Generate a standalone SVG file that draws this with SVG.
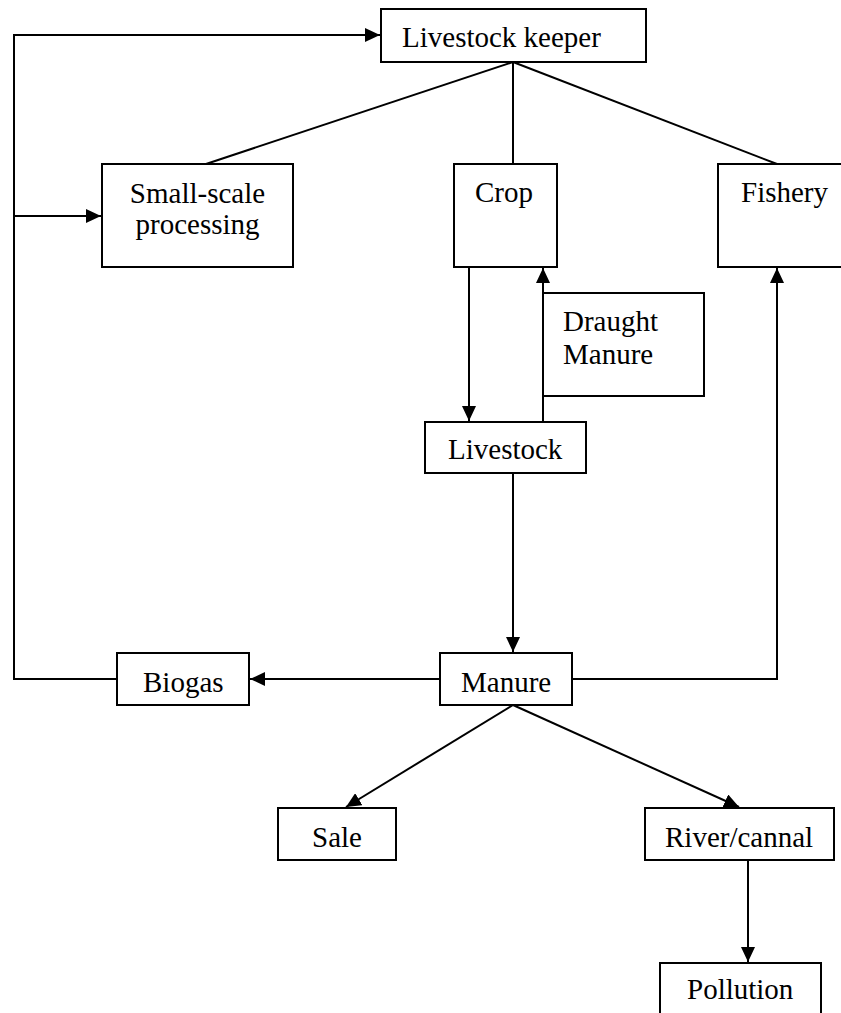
<svg xmlns="http://www.w3.org/2000/svg" width="841" height="1013" viewBox="0 0 841 1013">
<style>
.box{fill:#fff;stroke:#000;stroke-width:2}
.lbl{font-family:"Liberation Serif","Times New Roman",serif;font-size:29px;fill:#000}
.c{fill:none;stroke:#000;stroke-width:2}
</style>
<defs>
<marker id="ah" markerUnits="userSpaceOnUse" markerWidth="16" markerHeight="14" refX="15" refY="7" orient="auto">
<path d="M0,0 L15,7 L0,14 Z" fill="#000"/>
</marker>
</defs>
<rect width="841" height="1013" fill="#fff"/>
<g id="connectors">
<polyline class="c" points="117,679 14,679 14,35 380,35" marker-end="url(#ah)"/>
<line class="c" x1="14" y1="216" x2="101" y2="216" marker-end="url(#ah)"/>
<line class="c" x1="513" y1="62" x2="206" y2="164"/>
<line class="c" x1="513" y1="62" x2="513" y2="164"/>
<line class="c" x1="513" y1="62" x2="777" y2="164"/>
<line class="c" x1="469" y1="267" x2="469" y2="421" marker-end="url(#ah)"/>
<line class="c" x1="543" y1="422" x2="543" y2="268" marker-end="url(#ah)"/>
<line class="c" x1="513" y1="473" x2="513" y2="652" marker-end="url(#ah)"/>
<line class="c" x1="440" y1="679" x2="250" y2="679" marker-end="url(#ah)"/>
<polyline class="c" points="572,679 777,679 777,268" marker-end="url(#ah)"/>
<line class="c" x1="513" y1="705" x2="346" y2="807" marker-end="url(#ah)"/>
<line class="c" x1="513" y1="705" x2="739" y2="807" marker-end="url(#ah)"/>
<line class="c" x1="748" y1="860" x2="748" y2="962" marker-end="url(#ah)"/>
</g>
<g id="livestock-keeper">
<rect class="box" x="381" y="9" width="265" height="53"/>
<text class="lbl" x="402" y="47">Livestock keeper</text>
</g>
<g id="small-scale-processing">
<rect class="box" x="102" y="164" width="191" height="103"/>
<text class="lbl" x="197.5" y="203" text-anchor="middle">Small-scale</text>
<text class="lbl" x="197.5" y="234" text-anchor="middle">processing</text>
</g>
<g id="crop">
<rect class="box" x="454" y="164" width="103" height="103"/>
<text class="lbl" x="475" y="202">Crop</text>
</g>
<g id="fishery">
<rect class="box" x="718" y="164" width="140" height="103"/>
<text class="lbl" x="741" y="202">Fishery</text>
</g>
<g id="draught-manure">
<rect class="box" x="543" y="293" width="161" height="103"/>
<text class="lbl" x="563" y="331">Draught</text>
<text class="lbl" x="563" y="364">Manure</text>
</g>
<g id="livestock">
<rect class="box" x="425" y="422" width="161" height="51"/>
<text class="lbl" x="448" y="459">Livestock</text>
</g>
<g id="biogas">
<rect class="box" x="117" y="653" width="132" height="52"/>
<text class="lbl" x="143" y="692">Biogas</text>
</g>
<g id="manure">
<rect class="box" x="440" y="653" width="132" height="52"/>
<text class="lbl" x="461" y="692">Manure</text>
</g>
<g id="sale">
<rect class="box" x="278" y="808" width="118" height="52"/>
<text class="lbl" x="312" y="847">Sale</text>
</g>
<g id="river-cannal">
<rect class="box" x="645" y="808" width="189" height="52"/>
<text class="lbl" x="665" y="847">River/cannal</text>
</g>
<g id="pollution">
<rect class="box" x="660" y="963" width="161" height="70"/>
<text class="lbl" x="687" y="999">Pollution</text>
</g>
</svg>
